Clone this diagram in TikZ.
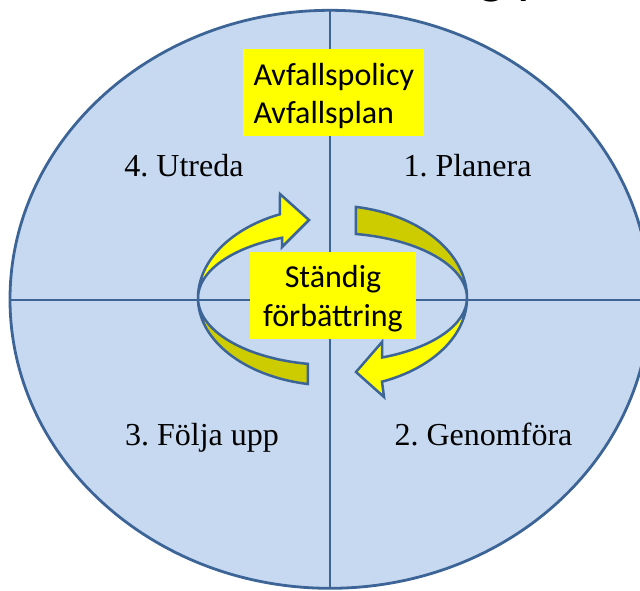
\documentclass[tikz,border=0pt]{standalone}
\usepackage{fontspec}
\setmainfont{Liberation Serif}
\newfontfamily\boxfont{Carlito}
\definecolor{ringfill}{HTML}{C6D9F0}
\definecolor{edgeblue}{HTML}{3C6496}
\definecolor{brightyellow}{HTML}{FFFF00}
\definecolor{darkyellow}{HTML}{CCCC00}
\frenchspacing
\begin{document}
\begin{tikzpicture}[x=1pt,y=1pt,
  lineblue/.style={draw=edgeblue, line width=2.4pt},
  quadlabel/.style={font=\fontsize{32}{38}\selectfont, anchor=base, inner sep=0pt},
  ybox/.style={fill=brightyellow, font=\boxfont\fontsize{32}{38.7}\selectfont, inner sep=0pt},
  frontband/.style={fill=brightyellow, draw=edgeblue, line width=2.5pt, line join=miter},
  backband/.style={fill=darkyellow, draw=edgeblue, line width=2.5pt, line join=miter}]
\fill[white] (0,0) rectangle (640,-590);
\useasboundingbox (0,0) rectangle (640,-590);
% cut-off title fragment
\node[anchor=base west, font=\boxfont\fontsize{56}{60}\selectfont, inner sep=0pt] (title) at (478,8) {g p};
% big ellipse and quadrant lines
\coordinate (C) at (330,-299.3);
\path[fill=ringfill, draw=edgeblue, line width=2.8pt] (C) ellipse [x radius=320, y radius=289];
\coordinate (hl) at (10,-300);
\coordinate (hr) at (650,-300);
\coordinate (vt) at (330,-10.3);
\coordinate (vb) at (330,-588.3);
\draw[lineblue] (hl) -- (hr);
\draw[lineblue] (vt) -- (vb);
% circular arrows
\begin{scope}[shift={(332.5,-298)}]
  % back bands
  \draw[backband] (80:134.5 and 92.5) arc[start angle=80, end angle=0, x radius=134.5, y radius=92.5]
     arc[start angle=0, end angle=80, x radius=134.5, y radius=65] -- cycle;
  \draw[backband] (180:134.5 and 87.5) arc[start angle=180, end angle=259.5, x radius=134.5, y radius=87.5]
     -- (259.5:134.5 and 67) arc[start angle=259.5, end angle=180, x radius=134.5, y radius=67] -- cycle;
  % front arrows
  \draw[frontband] (180:134.5 and 91) arc[start angle=180, end angle=113, x radius=134.5, y radius=91]
     -- (-52.5,104) -- (-23.5,78) -- (-50.5,51)
     -- (112:134.5 and 65) arc[start angle=112, end angle=180, x radius=134.5, y radius=65] -- cycle;
  \draw[frontband] (0:134.5 and 90) arc[start angle=360, end angle=291.6, x radius=134.5, y radius=90]
     -- (51.5,-99) -- (23.5,-74) -- (49.5,-44)
     -- (291.6:134.5 and 64) arc[start angle=291.6, end angle=360, x radius=134.5, y radius=64] -- cycle;
\end{scope}
% yellow boxes
\node[ybox, minimum width=181pt, minimum height=87pt, text width=160pt, align=left] (policy) at (333.5,-92.5) {\rule{0pt}{29pt}Avfallspolicy\\Avfallsplan};
\node[ybox, minimum width=166pt, minimum height=87pt, align=center] (standig) at (333,-295.5) {\rule{0pt}{29pt}Ständig\\förbättring};
% quadrant labels
\node[quadlabel] (utreda) at (184,-176) {4. Utreda};
\node[quadlabel] (planera) at (467.5,-176) {1. Planera};
\node[quadlabel] (folja) at (202,-445) {3. Följa upp};
\node[quadlabel] (genom) at (483.5,-445) {2. Genomföra};
\end{tikzpicture}
\end{document}
